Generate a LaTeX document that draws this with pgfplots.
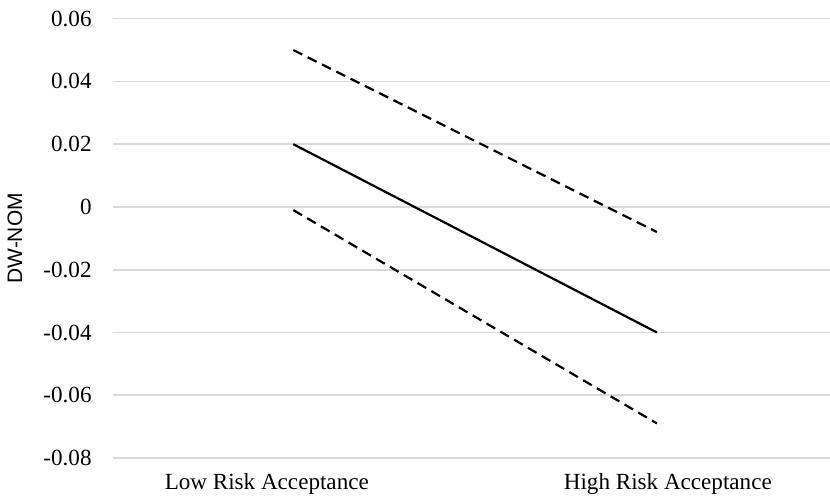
\documentclass[border=0pt]{standalone}
\usepackage{pgfplots}
\pgfplotsset{compat=1.18}
\usepackage{fontspec}
\setmainfont{Liberation Serif}
\newfontfamily\arial{Liberation Sans}
\definecolor{gridgray}{HTML}{D9D9D9}
\begin{document}
\begin{tikzpicture}
\path[use as bounding box] (0,0) rectangle (415bp,248bp);
\begin{axis}[
  at={(56.5bp,19bp)}, anchor=south west,
  scale only axis, width=358.5bp, height=219.65bp,
  xmin=-0.496, xmax=1.476, ymin=-0.08, ymax=0.06,
  scaled y ticks=false, scaled x ticks=false,
  ytick={-0.08,-0.06,-0.04,-0.02,0,0.02,0.04,0.06},
  yticklabels={{-0.08},{-0.06},{-0.04},{-0.02},{0},{0.02},{0.04},{0.06}},
  xtick={-0.073,1.03},
  xticklabels={Low Risk Acceptance, High Risk Acceptance},
  ymajorgrids, grid style={gridgray, line width=0.8bp},
  axis line style={draw=none}, tick style={draw=none}, major tick length=0pt,
  tick label style={font=\fontsize{11.6}{13}\selectfont, inner sep=0pt},
  yticklabel style={anchor=east, xshift=-10.5bp},
  xticklabel style={anchor=base, yshift=-15.5bp},
  ylabel={DW-NOM},
  every axis y label/.style={at={(axis description cs:-0.1367,0.5)}, rotate=90, anchor=center, font=\arial\fontsize{10.5}{12}\selectfont},
  clip=false,
]
\addplot[black, line width=1.1bp] coordinates {(0,0.02) (1,-0.04)};
\addplot[black, line width=1.1bp, dash pattern=on 5bp off 3bp] coordinates {(0,0.05) (1,-0.008)};
\addplot[black, line width=1.1bp, dash pattern=on 5bp off 3bp] coordinates {(0,-0.001) (1,-0.069)};
\end{axis}
\end{tikzpicture}
\end{document}
